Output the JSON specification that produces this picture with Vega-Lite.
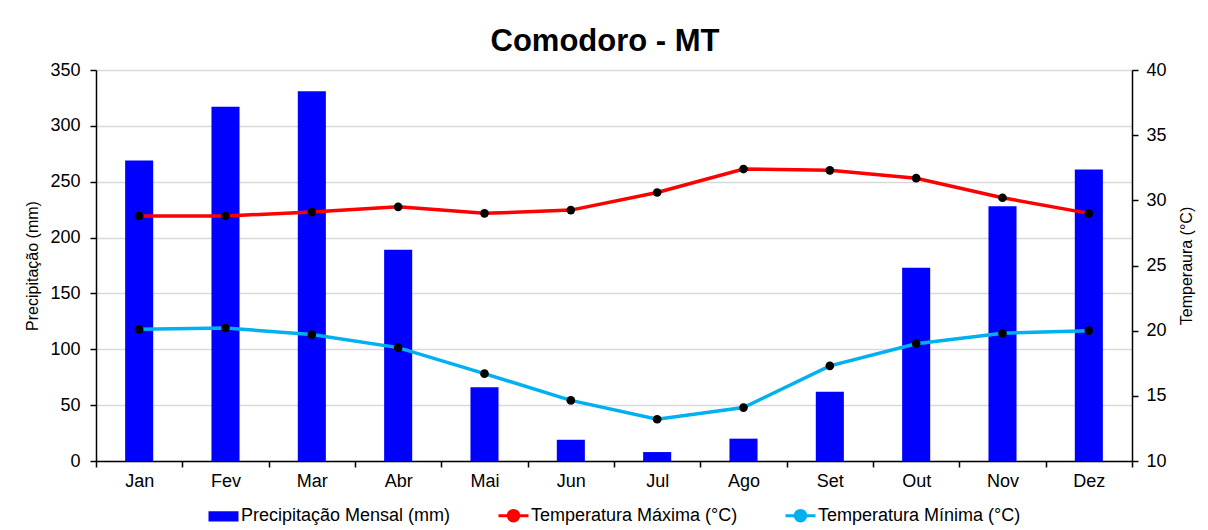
{
  "$schema": "https://vega.github.io/schema/vega-lite/v6.json",
  "width": 1036,
  "height": 391,
  "autosize": {"type": "none"},
  "padding": {"left": 96, "top": 70, "right": 76, "bottom": 69},
  "background": "white",
  "title": {
    "text": "Comodoro - MT",
    "font": "Liberation Sans",
    "fontSize": 31,
    "fontWeight": "bold",
    "color": "black",
    "anchor": "middle",
    "dx": -9,
    "offset": 3
  },
  "data": {
    "values": [
      {"mes": "Jan", "serie": "Precipitação Mensal (mm)", "valor": 269},
      {"mes": "Fev", "serie": "Precipitação Mensal (mm)", "valor": 317},
      {"mes": "Mar", "serie": "Precipitação Mensal (mm)", "valor": 331},
      {"mes": "Abr", "serie": "Precipitação Mensal (mm)", "valor": 189},
      {"mes": "Mai", "serie": "Precipitação Mensal (mm)", "valor": 66},
      {"mes": "Jun", "serie": "Precipitação Mensal (mm)", "valor": 19},
      {"mes": "Jul", "serie": "Precipitação Mensal (mm)", "valor": 8},
      {"mes": "Ago", "serie": "Precipitação Mensal (mm)", "valor": 20},
      {"mes": "Set", "serie": "Precipitação Mensal (mm)", "valor": 62},
      {"mes": "Out", "serie": "Precipitação Mensal (mm)", "valor": 173},
      {"mes": "Nov", "serie": "Precipitação Mensal (mm)", "valor": 228},
      {"mes": "Dez", "serie": "Precipitação Mensal (mm)", "valor": 261},
      {"mes": "Jan", "serie": "Temperatura Máxima (°C)", "valor": 28.8},
      {"mes": "Fev", "serie": "Temperatura Máxima (°C)", "valor": 28.8},
      {"mes": "Mar", "serie": "Temperatura Máxima (°C)", "valor": 29.1},
      {"mes": "Abr", "serie": "Temperatura Máxima (°C)", "valor": 29.5},
      {"mes": "Mai", "serie": "Temperatura Máxima (°C)", "valor": 29.0},
      {"mes": "Jun", "serie": "Temperatura Máxima (°C)", "valor": 29.25},
      {"mes": "Jul", "serie": "Temperatura Máxima (°C)", "valor": 30.6},
      {"mes": "Ago", "serie": "Temperatura Máxima (°C)", "valor": 32.4},
      {"mes": "Set", "serie": "Temperatura Máxima (°C)", "valor": 32.3},
      {"mes": "Out", "serie": "Temperatura Máxima (°C)", "valor": 31.7},
      {"mes": "Nov", "serie": "Temperatura Máxima (°C)", "valor": 30.2},
      {"mes": "Dez", "serie": "Temperatura Máxima (°C)", "valor": 29.0},
      {"mes": "Jan", "serie": "Temperatura Mínima (°C)", "valor": 20.1},
      {"mes": "Fev", "serie": "Temperatura Mínima (°C)", "valor": 20.2},
      {"mes": "Mar", "serie": "Temperatura Mínima (°C)", "valor": 19.7},
      {"mes": "Abr", "serie": "Temperatura Mínima (°C)", "valor": 18.7},
      {"mes": "Mai", "serie": "Temperatura Mínima (°C)", "valor": 16.7},
      {"mes": "Jun", "serie": "Temperatura Mínima (°C)", "valor": 14.65},
      {"mes": "Jul", "serie": "Temperatura Mínima (°C)", "valor": 13.2},
      {"mes": "Ago", "serie": "Temperatura Mínima (°C)", "valor": 14.1},
      {"mes": "Set", "serie": "Temperatura Mínima (°C)", "valor": 17.3},
      {"mes": "Out", "serie": "Temperatura Mínima (°C)", "valor": 19.0},
      {"mes": "Nov", "serie": "Temperatura Mínima (°C)", "valor": 19.8},
      {"mes": "Dez", "serie": "Temperatura Mínima (°C)", "valor": 20.0}
    ]
  },
  "encoding": {
    "x": {
      "field": "mes",
      "type": "nominal",
      "sort": ["Jan", "Fev", "Mar", "Abr", "Mai", "Jun", "Jul", "Ago", "Set", "Out", "Nov", "Dez"],
      "scale": {"paddingInner": 0, "paddingOuter": 0},
      "axis": {
        "title": null,
        "labelAngle": 0,
        "tickBand": "extent",
        "tickSize": 6,
        "labelPadding": 5,
        "grid": false
      }
    },
    "color": {
      "field": "serie",
      "type": "nominal",
      "scale": {
        "domain": ["Precipitação Mensal (mm)", "Temperatura Máxima (°C)", "Temperatura Mínima (°C)"],
        "range": ["#0000FF", "#FF0000", "#00B0F0"]
      },
      "legend": {
        "title": null,
        "orient": "bottom",
        "direction": "horizontal",
        "offset": 9,
        "symbolSize": 900,
        "symbolStrokeWidth": 3,
        "labelOffset": 1,
        "columnPadding": 41,
        "labelFont": "Liberation Sans",
        "labelFontSize": 18,
        "labelColor": "black",
        "labelLimit": 400,
        "encoding": {
          "symbols": {
            "shape": {"value": {"expr": "datum.value === 'Precipitação Mensal (mm)' ? 'M-1,-0.24H1M-1,-0.16H1M-1,-0.08H1M-1,0H1M-1,0.08H1M-1,0.16H1M-1,0.24H1' : 'M-1,0H1M0.35,0A0.35,0.35 0 1,1 -0.35,0A0.35,0.35 0 1,1 0.35,0Z'"}},
            "opacity": {"value": 1}
          }
        }
      }
    }
  },
  "layer": [
    {
      "transform": [{"filter": "datum.serie === 'Precipitação Mensal (mm)'"}],
      "mark": {"type": "bar", "width": {"band": 0.325}},
      "encoding": {
        "y": {
          "field": "valor",
          "type": "quantitative",
          "scale": {"domain": [0, 350], "nice": false},
          "axis": {
            "title": "Precipitação (mm)",
            "values": [0, 50, 100, 150, 200, 250, 300, 350],
            "grid": true,
            "gridColor": "#D9D9D9",
            "gridWidth": 1.5,
            "tickSize": 6,
            "labelPadding": 10,
            "titlePadding": 9
          }
        }
      }
    },
    {
      "transform": [{"filter": "datum.serie !== 'Precipitação Mensal (mm)'"}],
      "encoding": {
        "y": {
          "field": "valor",
          "type": "quantitative",
          "scale": {"domain": [10, 40], "nice": false, "zero": false},
          "axis": {
            "orient": "right",
            "title": "Temperaura (°C)",
            "titleAngle": 270,
            "titleBaseline": "top",
            "values": [10, 15, 20, 25, 30, 35, 40],
            "grid": false,
            "tickSize": 6,
            "labelPadding": 8,
            "titlePadding": 12
          }
        }
      },
      "layer": [
        {"mark": {"type": "line", "strokeWidth": 3.5}},
        {
          "mark": {"type": "point", "filled": true, "opacity": 1, "size": 75},
          "encoding": {"color": {"value": "black"}}
        }
      ]
    }
  ],
  "resolve": {"scale": {"y": "independent"}},
  "config": {
    "view": {"stroke": null},
    "font": "Liberation Sans",
    "legend": {
      "layout": {"bottom": {"anchor": "middle"}},
      "symbolBaseFillColor": "black",
      "symbolFillColor": "black"
    },
    "axis": {
      "domainColor": "black",
      "domainWidth": 1.5,
      "tickColor": "black",
      "tickWidth": 1.5,
      "labelFont": "Liberation Sans",
      "labelFontSize": 18,
      "labelColor": "black",
      "titleFont": "Liberation Sans",
      "titleFontSize": 16,
      "titleFontWeight": "normal",
      "titleColor": "black"
    }
  }
}
